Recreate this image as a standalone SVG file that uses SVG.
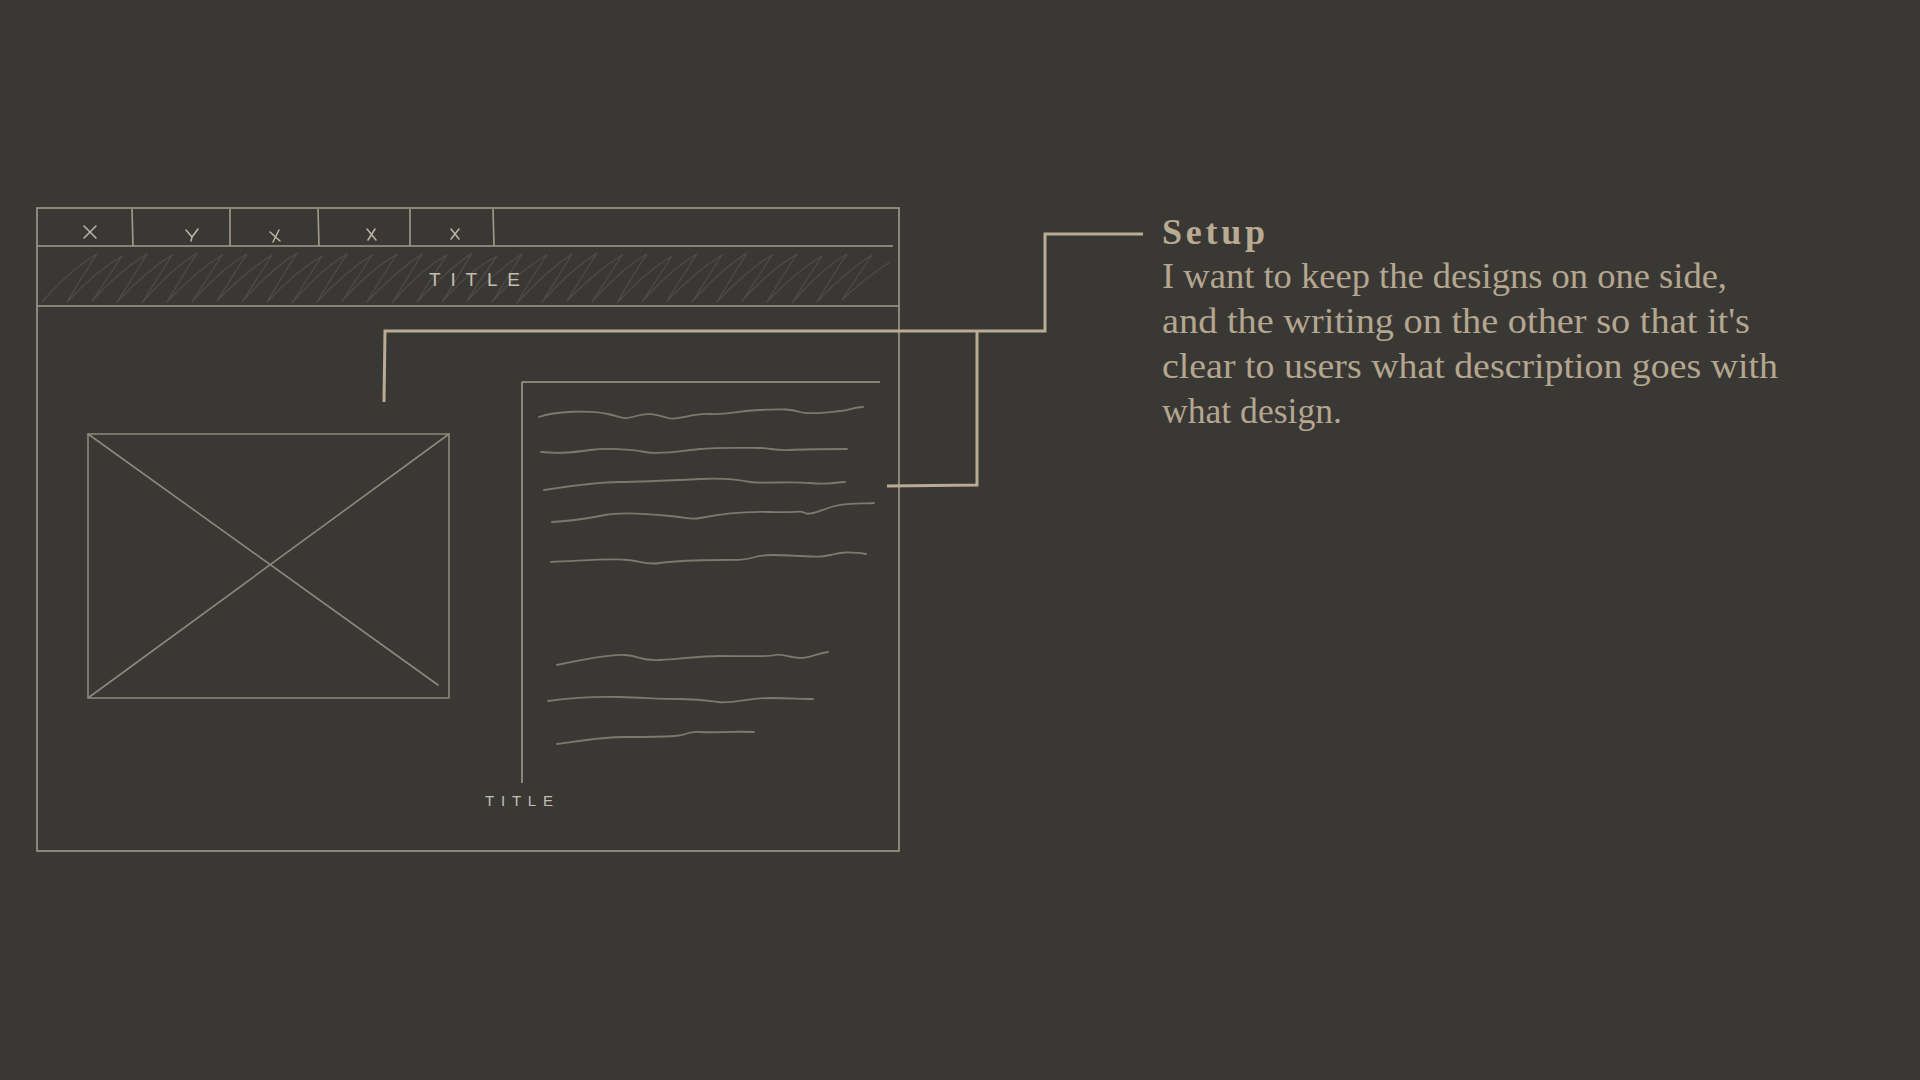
<svg xmlns="http://www.w3.org/2000/svg" width="1920" height="1080" viewBox="0 0 1920 1080">
  <style>
    .frame { fill: none; stroke: #a39b8b; stroke-width: 1.6; }
    .sketch { fill: none; stroke: #8d887c; stroke-width: 1.6; stroke-linecap: round; stroke-linejoin: round; }
    .wave { fill: none; stroke: #7c786e; stroke-width: 1.8; stroke-linecap: round; }
    .hatch { fill: none; stroke: #6e6a62; stroke-width: 1.3; stroke-linejoin: round; opacity: 0.4; }
    .mark { fill: none; stroke: #bdb6a8; stroke-width: 1.5; stroke-linecap: round; }
    .conn { fill: none; stroke: #baab93; stroke-width: 3; stroke-linejoin: miter; stroke-linecap: butt; }
    .hand { font-family: "Liberation Sans", Arial, sans-serif; fill: #c4beb1; }
    .body { font-family: "Liberation Serif", "Times New Roman", serif; fill: #b4a68f; font-size: 36px; }
    .head { font-family: "Liberation Serif", "Times New Roman", serif; fill: #b9aa92; font-size: 36px; font-weight: bold; }
  </style>
  <rect x="0" y="0" width="1920" height="1080" fill="#3a3835"/>

  <g id="window">
    <rect x="37" y="208" width="862" height="643" fill="#363534" class="frame"/>
    <line x1="37" y1="246" x2="893" y2="246" class="frame"/>
    <line x1="37" y1="306" x2="899" y2="306" class="frame"/>
  </g>

  <g id="tabs">
    <line x1="132" y1="209" x2="133" y2="246" class="frame"/>
    <line x1="230" y1="209" x2="230" y2="246" class="frame"/>
    <line x1="318" y1="209" x2="319" y2="246" class="frame"/>
    <line x1="410" y1="209" x2="410" y2="246" class="frame"/>
    <line x1="493" y1="209" x2="494" y2="246" class="frame"/>
    <path class="mark" d="M84 226 L96 238 M96 226 L84 238"/>
    <path class="mark" d="M186 230 L192 237 L198 229 M192 237 L191 241"/>
    <path class="mark" d="M270 232 L280 241 M279 230 L273 242"/>
    <path class="mark" d="M367 229 L376 240 M375 229 L368 240"/>
    <path class="mark" d="M451 229 L459 239 M459 229 L451 239"/>
  </g>

  <g id="title-bar">
    <path class="hatch" d="M42 302 Q70 270 97 254 Q80 280 67 302 Q95 272 122 256 Q105 282 92 301 Q120 270 147 254 Q130 282 117 302 Q145 272 172 255 Q155 282 142 303 Q170 270 197 253 Q180 280 167 302 Q195 272 222 255 Q205 282 192 302 Q220 270 247 254 Q230 280 217 301 Q245 272 272 255 Q255 282 242 302 Q270 270 297 253 Q280 280 267 302 Q295 272 322 256 Q305 282 292 303 Q320 270 347 254 Q330 280 317 302 Q345 272 372 255 Q355 282 342 301 Q370 270 397 254 Q380 280 367 302 Q395 272 422 254 Q405 282 392 303 Q420 270 447 255 Q430 280 417 302 Q445 272 472 253 Q455 282 442 302 Q470 270 497 256 Q480 280 467 301 Q495 272 522 254 Q505 282 492 302 Q520 270 547 255 Q530 280 517 303 Q545 272 572 254 Q555 282 542 302 Q570 270 597 253 Q580 280 567 301 Q595 272 622 255 Q605 282 592 302 Q620 270 647 254 Q630 280 617 303 Q645 272 672 256 Q655 282 642 302 Q670 270 697 254 Q680 280 667 301 Q695 272 722 255 Q705 282 692 302 Q720 270 747 253 Q730 280 717 302 Q745 272 772 255 Q755 282 742 301 Q770 270 797 254 Q780 280 767 302 Q795 272 822 256 Q805 282 792 303 Q820 270 847 254 Q830 280 817 302 Q845 272 872 255 Q855 280 842 300 Q865 278 890 262"/>
    <text class="hand" x="429" y="286" font-size="19" textLength="91" lengthAdjust="spacing">TITLE</text>
  </g>

  <g id="image-placeholder">
    <rect x="88" y="434" width="361" height="264" class="sketch"/>
    <line x1="88" y1="434" x2="438" y2="685" class="sketch"/>
    <line x1="88" y1="698" x2="449" y2="434" class="sketch" stroke-width="1.2"/>
  </g>

  <g id="text-column">
    <line x1="522" y1="382" x2="880" y2="382" class="frame" stroke-width="2"/>
    <line x1="522" y1="382" x2="522" y2="783" class="frame"/>
    <path class="wave" d="M539 417 C555 411 590 410 608 414 S622 420 636 416 S656 415 668 418 S690 413 710 414 S735 411 760 410 S790 409 800 412 S830 412 840 411 S855 407 863 407"/>
    <path class="wave" d="M541 452 C560 454 575 452 590 450 S630 449 645 452 S680 451 700 449 S750 448 760 448 S775 451 790 450 S830 449 847 449"/>
    <path class="wave" d="M544 490 C570 486 600 482 620 482 S680 480 700 479 S740 480 750 482 S790 481 810 483 S835 482 845 482"/>
    <path class="wave" d="M552 522 C570 521 590 518 605 515 S650 514 670 516 S690 520 700 518 S740 511 770 512 S800 510 805 513 S820 510 835 506 S865 504 874 503"/>
    <path class="wave" d="M551 562 C580 561 610 558 628 560 S645 565 660 563 S700 560 720 560 S745 560 755 557 S780 555 800 556 S820 557 830 555 S845 551 866 554"/>
    <path class="wave" d="M557 665 C580 660 610 654 625 655 S640 661 660 660 S700 656 720 656 S770 657 775 655 S790 658 800 658 S815 654 828 652"/>
    <path class="wave" d="M548 701 C570 698 590 696 620 697 S660 699 680 699 S705 700 718 702 S750 698 770 698 S800 699 813 699"/>
    <path class="wave" d="M557 744 C580 741 600 737 625 737 S660 737 675 736 S685 731 700 732 S730 731 754 732"/>
    <text class="hand" x="485" y="806" font-size="15" textLength="68" lengthAdjust="spacing">TITLE</text>
  </g>

  <g id="connectors">
    <path class="conn" d="M384 402 L385 331 L1045 331 L1045 234 L1143 234"/>
    <path class="conn" d="M977 331 L977 485 L887 486"/>
  </g>

  <g id="callout">
    <text class="head" x="1162" y="244" textLength="103" lengthAdjust="spacing">Setup</text>
    <text class="body" x="1162" y="288" textLength="565" lengthAdjust="spacingAndGlyphs">I want to keep the designs on one side,</text>
    <text class="body" x="1162" y="333" textLength="588" lengthAdjust="spacingAndGlyphs">and the writing on the other so that it's</text>
    <text class="body" x="1162" y="378" textLength="616" lengthAdjust="spacingAndGlyphs">clear to users what description goes with</text>
    <text class="body" x="1162" y="423" textLength="180" lengthAdjust="spacingAndGlyphs">what design.</text>
  </g>
</svg>
